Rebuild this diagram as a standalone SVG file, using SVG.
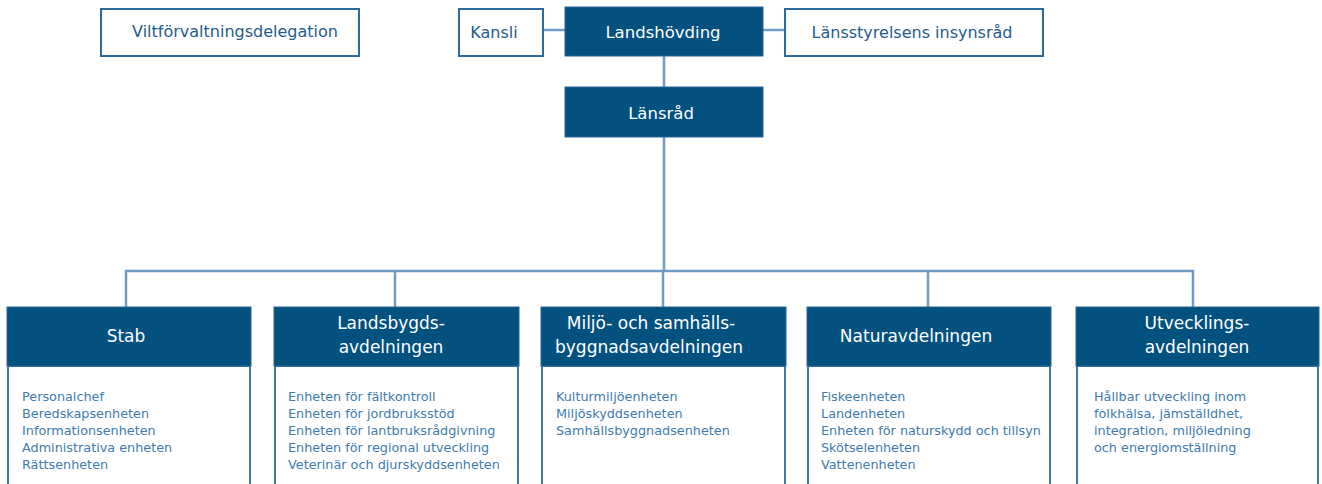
<svg xmlns="http://www.w3.org/2000/svg" width="1322" height="484" viewBox="0 0 1322 484">
<style>
.bg{fill:#ffffff}
.fill{fill:#03517f;stroke:#2a6797;stroke-width:1}
.wbox{fill:#ffffff;stroke:#2d6a9b;stroke-width:2}
.body{fill:#ffffff;stroke:#3f77a6;stroke-width:2}
.con{fill:none;stroke:#6f9cc2;stroke-width:2.5}
.wt{font-family:"DejaVu Sans",sans-serif;font-size:16.5px;fill:#ffffff;text-anchor:middle}
.ht{font-family:"DejaVu Sans",sans-serif;font-size:17px;fill:#ffffff;text-anchor:middle}
.bt{font-family:"DejaVu Sans",sans-serif;font-size:16px;fill:#245c8c;text-anchor:middle}
.lt{font-family:"DejaVu Sans",sans-serif;font-size:12.8px;fill:#3d7cae}
</style>
<rect class="bg" x="0" y="0" width="1322" height="484"/>
<g id="connectors">
<line class="con" x1="543" y1="30" x2="565" y2="30"/>
<line class="con" x1="763" y1="30" x2="785" y2="30"/>
<line class="con" x1="664" y1="56" x2="664" y2="88"/>
<line class="con" x1="664" y1="137" x2="664" y2="271"/>
<polyline class="con" points="126,307 126,271 1193,271 1193,307"/>
<line class="con" x1="395" y1="271" x2="395" y2="307"/>
<line class="con" x1="663" y1="271" x2="663" y2="307"/>
<line class="con" x1="928" y1="271" x2="928" y2="307"/>
</g>
<g id="vilt">
<rect class="wbox" x="101" y="9" width="258" height="47"/>
<text class="bt" x="235" y="37">Viltförvaltningsdelegation</text>
</g>
<g id="kansli">
<rect class="wbox" x="459" y="9" width="84" height="47"/>
<text class="bt" x="494" y="38">Kansli</text>
</g>
<g id="landshovding">
<rect class="fill" x="565" y="7" width="198" height="49"/>
<text class="wt" x="663" y="38">Landshövding</text>
</g>
<g id="insynsrad">
<rect class="wbox" x="785" y="9" width="258" height="47"/>
<text class="bt" x="912" y="38">Länsstyrelsens insynsråd</text>
</g>
<g id="lansrad">
<rect class="fill" x="565" y="87" width="198" height="50"/>
<text class="wt" x="661" y="119">Länsråd</text>
</g>
<g id="stab">
<rect class="body" x="8" y="366" width="242" height="130"/>
<rect class="fill" x="7" y="307" width="244" height="59"/>
<text class="ht" x="126" y="342">Stab</text>
<text class="lt" x="22"><tspan x="22" y="400.5">Personalchef</tspan><tspan x="22" y="417.5">Beredskapsenheten</tspan><tspan x="22" y="434.5">Informationsenheten</tspan><tspan x="22" y="451.5">Administrativa enheten</tspan><tspan x="22" y="468.5">Rättsenheten</tspan></text>
</g>
<g id="landsbygd">
<rect class="body" x="275" y="366" width="243" height="130"/>
<rect class="fill" x="274" y="307" width="245" height="59"/>
<text class="ht"><tspan x="391" y="329">Landsbygds-</tspan><tspan x="391" y="353">avdelningen</tspan></text>
<text class="lt"><tspan x="288" y="400.5">Enheten för fältkontroll</tspan><tspan x="288" y="417.5">Enheten för jordbruksstöd</tspan><tspan x="288" y="434.5">Enheten för lantbruksrådgivning</tspan><tspan x="288" y="451.5">Enheten för regional utveckling</tspan><tspan x="288" y="468.5">Veterinär och djurskyddsenheten</tspan></text>
</g>
<g id="miljo">
<rect class="body" x="542" y="366" width="243" height="130"/>
<rect class="fill" x="541" y="307" width="245" height="59"/>
<text class="ht"><tspan x="651" y="329">Miljö- och samhälls-</tspan><tspan x="649" y="353">byggnadsavdelningen</tspan></text>
<text class="lt"><tspan x="556" y="400.5">Kulturmiljöenheten</tspan><tspan x="556" y="417.5">Miljöskyddsenheten</tspan><tspan x="556" y="434.5">Samhällsbyggnadsenheten</tspan></text>
</g>
<g id="natur">
<rect class="body" x="808" y="366" width="242" height="130"/>
<rect class="fill" x="807" y="307" width="244" height="59"/>
<text class="ht" x="916" y="342">Naturavdelningen</text>
<text class="lt"><tspan x="821" y="400.5">Fiskeenheten</tspan><tspan x="821" y="417.5">Landenheten</tspan><tspan x="821" y="434.5">Enheten för naturskydd och tillsyn</tspan><tspan x="821" y="451.5">Skötselenheten</tspan><tspan x="821" y="468.5">Vattenenheten</tspan></text>
</g>
<g id="utveckling">
<rect class="body" x="1077" y="366" width="241" height="130"/>
<rect class="fill" x="1076" y="307" width="243" height="59"/>
<text class="ht"><tspan x="1197" y="329">Utvecklings-</tspan><tspan x="1197" y="353">avdelningen</tspan></text>
<text class="lt"><tspan x="1094" y="400.5">Hållbar utveckling inom</tspan><tspan x="1094" y="417.5">folkhälsa, jämställdhet,</tspan><tspan x="1094" y="434.5">integration, miljöledning</tspan><tspan x="1094" y="451.5">och energiomställning</tspan></text>
</g>
</svg>
